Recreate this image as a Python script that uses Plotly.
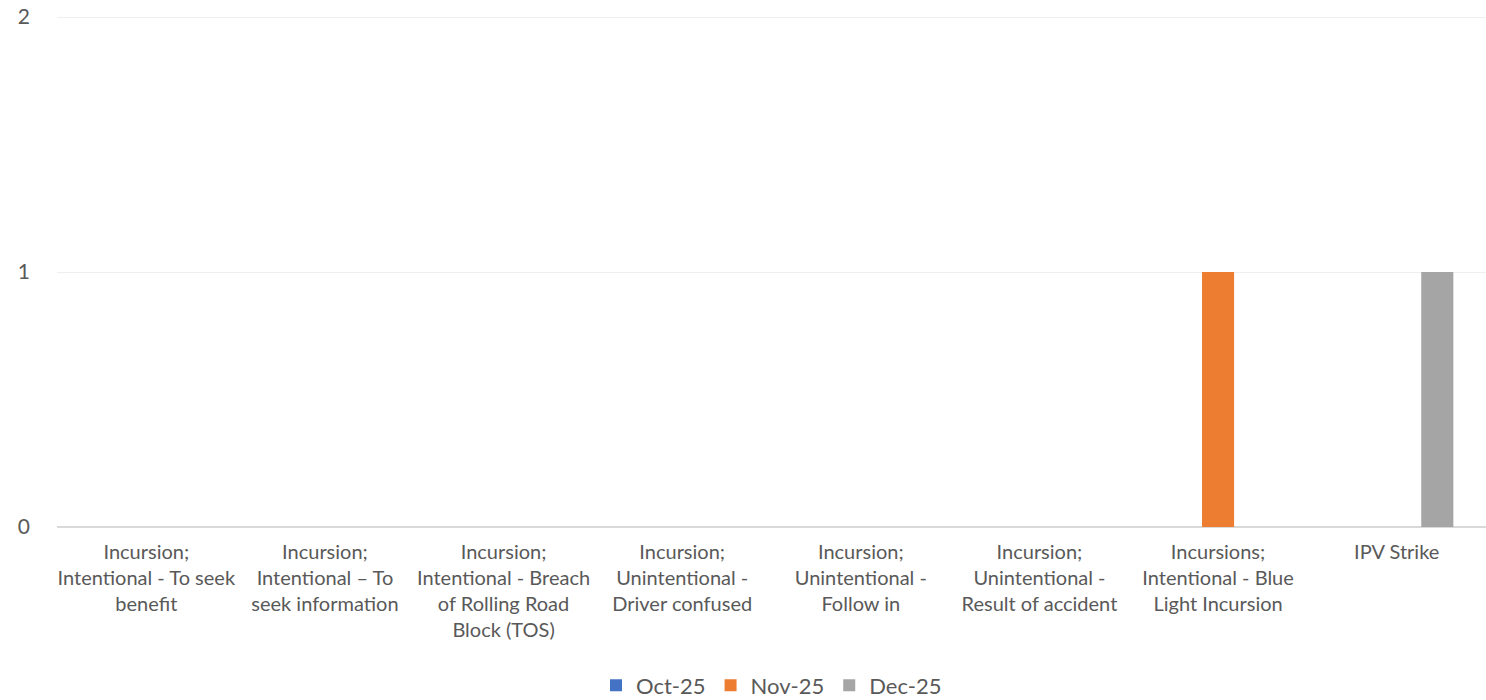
import plotly.graph_objects as go

categories = [
    "Incursion;<br>Intentional - To seek<br>benefit",
    "Incursion;<br>Intentional – To<br>seek information",
    "Incursion;<br>Intentional - Breach<br>of Rolling Road<br>Block (TOS)",
    "Incursion;<br>Unintentional -<br>Driver confused",
    "Incursion;<br>Unintentional -<br>Follow in",
    "Incursion;<br>Unintentional -<br>Result of accident",
    "Incursions;<br>Intentional - Blue<br>Light Incursion",
    "IPV Strike",
]
oct_25 = [0, 0, 0, 0, 0, 0, 0, 0]
nov_25 = [0, 0, 0, 0, 0, 0, 1, 0]
dec_25 = [0, 0, 0, 0, 0, 0, 0, 1]

series = [("Oct-25", oct_25, "#4472C4"), ("Nov-25", nov_25, "#ED7D31"), ("Dec-25", dec_25, "#A5A5A5")]

fig = go.Figure()
for name, vals, col in series:
    fig.add_trace(go.Bar(x=categories, y=vals, name=name, marker_color=col, marker_line_width=0))

font = "Lato, 'Liberation Sans', sans-serif"
fig.update_layout(
    width=1486, height=700,
    margin=dict(l=57, r=0, t=16, b=173, autoexpand=False),
    paper_bgcolor="white", plot_bgcolor="white",
    barmode="group", bargap=0.318, bargroupgap=0.21,
    font=dict(family=font, color="#595959", size=20),
    legend=dict(orientation="h", x=0.5, xanchor="center", y=-0.31, yanchor="middle",
                font=dict(size=22, color="#595959"), traceorder="normal"),
    showlegend=True,
)
fig.update_xaxes(showgrid=False, showline=False, ticks="", tickangle=0, automargin=False,
                 tickfont=dict(size=20, color="#595959"), ticklabelstandoff=11)
# a hair above 2 so the top gridline is still drawn
fig.update_yaxes(range=[0, 2.004], dtick=1, showgrid=True, gridcolor="#EFEFEF", gridwidth=1,
                 zeroline=True, zerolinecolor="#D9D9D9", zerolinewidth=1.5, automargin=False,
                 showline=False, ticks="", tickfont=dict(size=21, color="#595959"),
                 ticklabelstandoff=26, ticklabeloverflow="allow")

# drop the default 8px body margin so the figure fills the window exactly
fig.write_html("out.html", config={"displayModeBar": False},
               post_script="document.body.style.margin='0';document.body.style.overflow='hidden';")
